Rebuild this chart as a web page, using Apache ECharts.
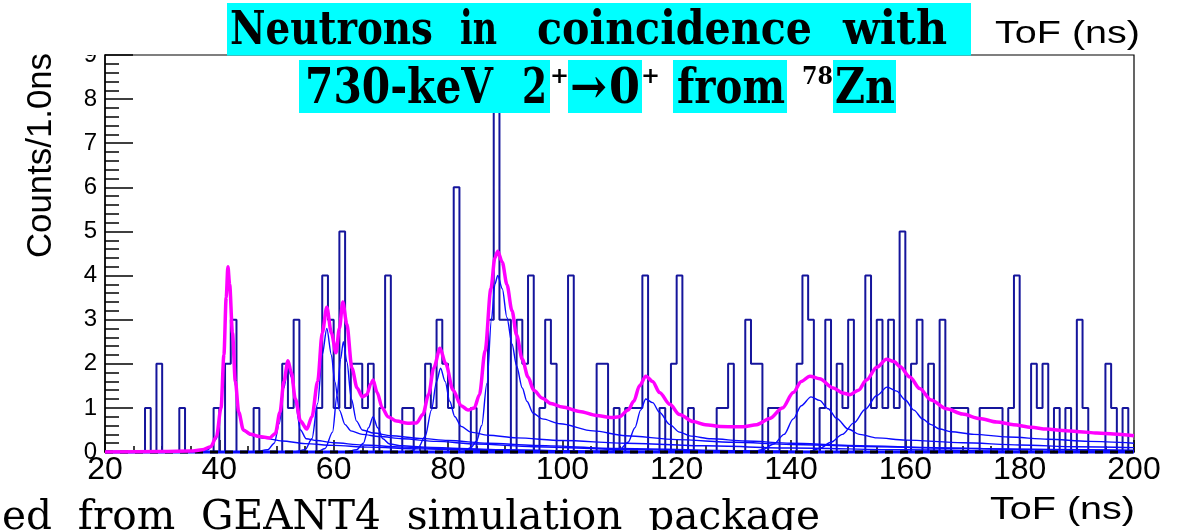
<!DOCTYPE html>
<html>
<head>
<meta charset="utf-8">
<title>Neutron ToF spectrum</title>
<script src="https://cdn.jsdelivr.net/npm/echarts@6/dist/echarts.min.js"></script>
<style>
  html, body { margin: 0; padding: 0; background: #ffffff; }
  #chart { width: 1197px; height: 530px; }
</style>
</head>
<body>
<div id="chart"></div>
<script>
// ---------------------------------------------------------------
// Time-of-flight histogram: 1 ns bins, first bin starts at 20 ns
// ---------------------------------------------------------------
const binStart = 20;
const binWidth = 1;
const counts = [
  0,0,0,0,0,0,0,1,0,2,   // 20-29
  0,0,0,1,0,0,0,0,0,1,   // 30-39
  0,2,3,0,0,0,1,0,0,0,   // 40-49
  0,2,1,3,0,0,0,1,4,3,   // 50-59
  1,5,1,2,2,1,2,0,1,4,   // 60-69
  0,0,1,1,0,0,2,1,3,2,   // 70-79
  1,6,0,0,1,0,0,3,8,3,   // 80-89
  3,0,3,2,4,0,1,3,2,0,   // 90-99
  0,4,0,0,0,0,2,2,0,1,   // 100-109
  0,1,1,1,4,0,0,1,0,2,   // 110-119
  4,0,1,0,0,0,0,1,1,2,   // 120-129
  0,0,3,2,2,0,1,1,0,0,   // 130-139
  0,2,4,3,0,1,3,0,2,1,   // 140-149
  3,0,0,4,1,3,1,3,1,5,   // 150-159
  0,2,3,0,2,0,3,0,1,1,   // 160-169
  1,0,0,1,1,1,1,0,1,4,   // 170-179
  0,0,2,1,2,0,1,0,1,0,   // 180-189
  3,1,0,0,0,2,1,0,1,0    // 190-199
];

// Total fit (sum of all neutron peaks), [ToF ns, counts]
const fitTotal = [
  [20,0],[30,0.01],[35,0.02],[37,0.05],[38.5,0.12],[39.5,0.35],[40.3,1.0],[40.8,2.2],
  [41.2,3.5],[41.5,4.2],[41.8,3.8],[42.3,2.7],[42.8,1.6],[43.4,0.9],[44.2,0.5],[45.5,0.4],
  [47,0.35],[48.8,0.32],[49.8,0.42],[50.6,0.9],[51.3,1.6],[52.0,2.07],[52.6,1.8],[53.3,1.2],
  [54.2,0.7],[55.3,0.52],[56.2,0.8],[57.2,1.6],[58.0,2.7],[58.8,3.28],[59.6,2.7],[60.4,2.25],
  [61.0,2.8],[61.6,3.4],[62.3,2.9],[63.2,1.9],[64.1,1.45],[65.0,1.25],[65.8,1.3],[66.5,1.55],
  [66.9,1.63],[67.6,1.35],[68.5,1.0],[69.5,0.8],[71,0.7],[73,0.65],[74.5,0.66],[75.6,0.85],
  [76.6,1.3],[77.5,1.9],[78.6,2.35],[79.6,2.0],[80.9,1.4],[82.3,1.05],[83.5,0.95],[84.6,1.0],
  [85.5,1.3],[86.5,2.3],[87.5,3.7],[88.2,4.4],[88.7,4.55],[89.5,4.3],[90.3,3.8],[91.2,3.2],
  [92.0,2.65],[93.0,2.1],[94.0,1.7],[95.0,1.4],[96.5,1.22],[98,1.1],[100,1.02],[103,0.92],
  [106,0.83],[108.5,0.78],[110,0.8],[111.5,0.95],[112.5,1.15],[113.5,1.5],[114.6,1.72],[115.8,1.6],
  [117,1.35],[118.8,1.08],[120.5,0.85],[122.9,0.69],[125,0.62],[127.6,0.58],[131.6,0.57],[134,0.62],
  [136.3,0.76],[138.5,1.0],[140.4,1.35],[141.8,1.6],[143.3,1.72],[145,1.66],[147.4,1.45],[149,1.34],
  [150.3,1.3],[151.8,1.4],[153.2,1.63],[155,1.92],[156.7,2.1],[158,2.05],[159.1,1.93],[160.8,1.7],
  [162.5,1.44],[164.5,1.18],[167.2,0.98],[170,0.86],[173,0.76],[176,0.68],[178.9,0.62],[182,0.56],
  [184.7,0.52],[187.5,0.49],[190.5,0.46],[193.5,0.43],[196.4,0.41],[200,0.37]
];

// Individual peak components, [ToF ns, counts]
const peak41 = [[20,0],[36,0],[38,0.05],[39.5,0.3],[40.3,0.95],[40.8,2.1],[41.2,3.4],[41.5,4.15],[41.8,3.7],[42.3,2.6],[42.8,1.5],[43.4,0.85],[44.2,0.48],[45.5,0.38],[48,0.31],[51,0.25],[55,0.19],[60,0.15],[66,0.11],[75,0.07],[85,0.04],[100,0.015],[120,0],[200,0]];
const peak52 = [[20,0],[46,0],[48.5,0.05],[49.6,0.2],[50.5,0.65],[51.3,1.45],[52,1.95],[52.6,1.7],[53.3,1.1],[54.2,0.5],[55.2,0.3],[57,0.26],[60,0.21],[65,0.16],[72,0.11],[80,0.07],[95,0.03],[120,0],[200,0]];
const peak59 = [[20,0],[53,0],[55,0.05],[56.2,0.3],[57.2,1.1],[58,2.2],[58.8,2.8],[59.6,2.2],[60.2,1.6],[61,0.95],[62,0.62],[63,0.48],[65,0.4],[68,0.35],[72,0.3],[78,0.24],[85,0.18],[95,0.12],[110,0.06],[130,0.02],[150,0],[200,0]];
const peak62 = [[20,0],[57,0],[58.5,0.08],[59.8,0.45],[60.6,1.3],[61.2,2.1],[61.7,2.5],[62.3,2.05],[63.1,1.2],[64,0.7],[65,0.5],[67,0.43],[70,0.37],[75,0.31],[80,0.26],[87,0.2],[95,0.15],[110,0.08],[130,0.03],[150,0],[200,0]];
const peak67 = [[20,0],[62,0],[64,0.05],[65.2,0.2],[66.1,0.55],[66.9,0.8],[67.7,0.55],[68.6,0.3],[69.8,0.18],[72,0.14],[76,0.11],[82,0.08],[90,0.05],[105,0.02],[125,0],[200,0]];
const peak79 = [[20,0],[73,0],[74.8,0.1],[76,0.35],[77.1,0.95],[78,1.6],[78.7,1.9],[79.5,1.6],[80.3,1.15],[81.2,0.8],[82.3,0.58],[84,0.45],[87,0.38],[92,0.32],[100,0.26],[111,0.2],[125,0.14],[140,0.09],[160,0.05],[180,0.02],[200,0.01]];
const peak89 = [[20,0],[82.5,0],[84,0.1],[85,0.25],[85.9,0.6],[86.8,1.55],[87.6,3.0],[88.2,3.8],[88.7,4.0],[89.5,3.7],[90.3,3.05],[91.2,2.45],[92.0,1.95],[93.0,1.45],[93.8,1.15],[94.9,0.88],[96.5,0.75],[99.6,0.64],[105.4,0.48],[111,0.37],[120,0.28],[130,0.22],[140,0.17],[155,0.12],[170,0.08],[185,0.06],[200,0.04]];
const peak115 = [[20,0],[108,0],[110,0.05],[111.5,0.22],[112.7,0.55],[113.7,0.95],[114.6,1.2],[115.8,1.12],[117,0.9],[118.8,0.62],[120.5,0.45],[122.5,0.36],[126,0.3],[132,0.25],[140,0.2],[150,0.15],[165,0.1],[180,0.06],[200,0.03]];
const peak144 = [[20,0],[133,0],[135,0.05],[137,0.18],[138.8,0.4],[140.4,0.75],[141.8,1.05],[143.5,1.25],[145,1.17],[146.5,0.98],[148,0.76],[150,0.52],[152,0.4],[155,0.32],[160,0.27],[170,0.21],[180,0.16],[190,0.12],[200,0.1]];
const peak157 = [[20,0],[143,0],[145,0.08],[147,0.22],[149,0.4],[151,0.66],[153,0.97],[155,1.28],[156.8,1.47],[158.5,1.38],[160,1.18],[161.5,0.95],[163,0.75],[164.5,0.62],[166,0.52],[168,0.46],[172,0.4],[178,0.34],[185,0.29],[192,0.24],[200,0.2]];
const components = [peak41, peak52, peak59, peak62, peak67, peak79, peak89, peak115, peak144, peak157];

// Flat background level
const background = [[20, 0], [200, 0]];

// ---------------------------------------------------------------
const chart = echarts.init(document.getElementById('chart'), null, { renderer: 'canvas' });

// histogram outline: one point per bin low edge plus the closing edge
const histData = counts.map((c, i) => [binStart + i * binWidth, c]);
histData.push([binStart + counts.length * binWidth, counts[counts.length - 1]]);

const measureCtx = document.createElement('canvas').getContext('2d');
function textBlock(str, left, right, midY, size, family, weight) {
  measureCtx.font = weight + ' ' + size + 'px "' + family + '"';
  const w = measureCtx.measureText(str).width;
  return {
    type: 'text', x: left, y: midY, scaleX: (right - left) / w, z: 110, silent: true,
    style: {
      text: str, fontSize: size, fontFamily: family, fontWeight: weight, fill: '#000',
      align: 'left', verticalAlign: 'middle', textAlign: 'left', textVerticalAlign: 'middle'
    }
  };
}
function box(x0, x1, y0, y1) {
  return { type: 'rect', z: 100, silent: true, shape: { x: x0, y: y0, width: x1 - x0, height: y1 - y0 }, style: { fill: '#00ffff' } };
}

const slab = 'DejaVu Serif';
const sans = 'Liberation Sans';

// rotated y-axis title
measureCtx.font = '400 35px "' + sans + '"';
const yTitleW = measureCtx.measureText('Counts/1.0ns').width;
const yTitle = {
  type: 'text', x: 41, y: 155.5, rotation: Math.PI / 2, scaleX: 205 / yTitleW, z: 110, silent: true,
  style: { text: 'Counts/1.0ns', fontSize: 35, fontFamily: sans, fill: '#000',
           align: 'center', verticalAlign: 'middle', textAlign: 'center', textVerticalAlign: 'middle' }
};

const graphics = [
  // title, first line
  box(227, 971, 3, 55.5),
  textBlock('Neutrons', 230, 433, 32, 47, slab, 'bold'),
  textBlock('in', 460, 497, 32, 47, slab, 'bold'),
  textBlock('coincidence', 537, 812, 32, 47, slab, 'bold'),
  textBlock('with', 843, 947, 32, 47, slab, 'bold'),
  // title, second line
  box(299, 550, 60, 113),
  box(568, 642, 60, 113),
  box(673, 787, 60, 113),
  box(833, 896, 60, 113),
  textBlock('730-keV', 305, 493, 90, 49, slab, 'bold'),
  textBlock('2', 522, 547, 90, 49, slab, 'bold'),
  textBlock('+', 550, 569, 77, 23, slab, 'bold'),
  textBlock('\u2192', 570, 607, 90, 49, slab, 'bold'),
  textBlock('0', 609, 640, 90, 49, slab, 'bold'),
  textBlock('+', 641, 660, 77, 23, slab, 'bold'),
  textBlock('from', 677, 785, 90, 49, slab, 'bold'),
  textBlock('78', 802, 833, 77, 25, slab, 'bold'),
  textBlock('Zn', 835, 895, 90, 49, slab, 'bold'),
  // axis titles
  textBlock('ToF (ns)', 995, 1140, 34, 32, sans, 'normal'),
  textBlock('ToF (ns)', 990, 1135, 510, 32, sans, 'normal'),
  yTitle,
  // caption line along the bottom edge
  textBlock('ed  from  GEANT4  simulation  package', 2, 820, 518, 41, slab, 'normal'),
  // the top of the upper y label sits behind the page edge above the frame
  { type: 'rect', z: 100, silent: true, shape: { x: 60, y: 0, width: 42, height: 55 }, style: { fill: '#ffffff' } }
];

const componentSeries = components.map((pts) => ({
  type: 'line', data: pts, showSymbol: false, smooth: 0.3, smoothMonotone: 'x',
  lineStyle: { color: '#0a0aff', width: 1.4 }, z: 4, silent: true, animation: false
}));

chart.setOption({
  animation: false,
  backgroundColor: '#ffffff',
  grid: {
    left: 105, right: 63, top: 55, bottom: 78,
    show: true, borderColor: '#000', borderWidth: 1.2, backgroundColor: 'transparent',
    containLabel: false, outerBoundsMode: 'none'
  },
  xAxis: {
    type: 'value', min: 20, max: 200, interval: 20,
    axisLine: { show: true, onZero: false, lineStyle: { color: '#000', width: 1.5 } },
    axisTick: { show: true, inside: true, length: 12, lineStyle: { color: '#000', width: 1.5 } },
    minorTick: { show: true, splitNumber: 4, length: 6, lineStyle: { color: '#000', width: 1.5 } },
    splitLine: { show: false },
    minorSplitLine: { show: false },
    axisLabel: { color: '#000', fontSize: 32, fontFamily: sans, margin: 2 }
  },
  yAxis: {
    type: 'value', min: 0, max: 9, interval: 1,
    axisLine: { show: true, onZero: false, lineStyle: { color: '#000', width: 1.5 } },
    axisTick: { show: true, inside: true, length: 28, lineStyle: { color: '#000', width: 1.5 } },
    minorTick: { show: true, splitNumber: 5, length: 14, lineStyle: { color: '#000', width: 1.5 } },
    splitLine: { show: false },
    minorSplitLine: { show: false },
    axisLabel: { color: '#000', fontSize: 24, fontFamily: sans, margin: 8 }
  },
  series: [
    {
      type: 'line', data: histData, step: 'end', showSymbol: false,
      lineStyle: { color: '#15159c', width: 2 }, z: 3, silent: true
    },
    ...componentSeries,
    {
      type: 'line', data: background, showSymbol: false, clip: false,
      lineStyle: { color: '#0a0aff', width: 3 }, z: 4, silent: true
    },
    {
      type: 'line', data: background, showSymbol: false, clip: false,
      lineStyle: { color: '#000', width: 3, type: [8, 7] }, z: 5, silent: true
    },
    {
      type: 'line', data: fitTotal, showSymbol: false, smooth: 0.3, smoothMonotone: 'x',
      lineStyle: { color: '#ff00ff', width: 3.5 }, z: 6, silent: true
    }
  ],
  graphic: { elements: graphics }
});
</script>
</body>
</html>
